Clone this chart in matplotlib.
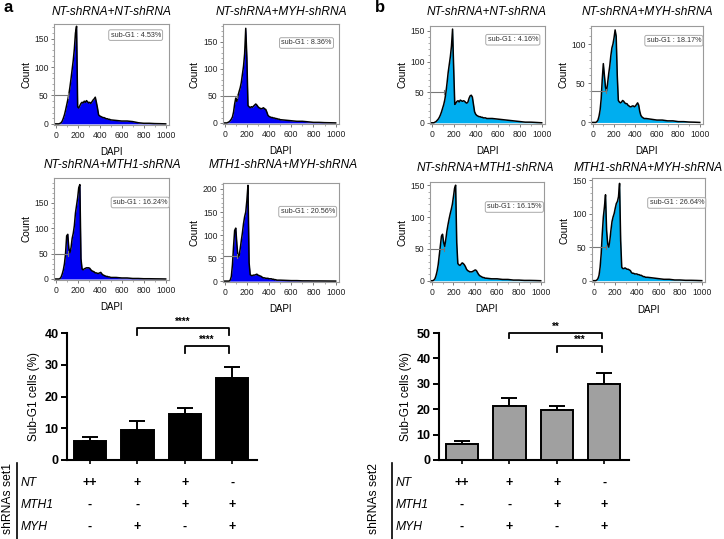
import matplotlib
matplotlib.use("Agg")
import matplotlib.pyplot as plt
from matplotlib.ticker import MultipleLocator
from matplotlib.transforms import blended_transform_factory

plt.rcParams["font.family"] = ["Liberation Sans", "DejaVu Sans"]

# DAPI channel grid the histogram profiles were read at
dapi = [0, 10, 20, 30, 40, 50, 60, 70, 80, 90, 100, 110, 120, 130, 140, 150, 160, 170, 180, 190,
        200, 210, 220, 230, 240, 250, 260, 270, 280, 290, 300, 310, 320, 330, 340, 350, 360, 370,
        380, 390, 400, 410, 420, 430, 440, 450, 460, 470, 480, 490, 500,
        550, 600, 650, 700, 750, 800, 850, 900, 950, 1000]

a_nt_nt = [0, 0, 0, 0, 1, 2, 5, 10, 16, 24, 33, 42, 52, 65, 80, 96, 112, 132, 160, 172,
           30, 28, 32, 36, 38, 37, 40, 38, 41, 39, 37, 38, 36, 39, 42, 44, 47, 38,
           28, 16, 14, 13, 12, 11, 11, 10, 9, 9, 8, 8, 7,
           6, 5, 5, 4, 2, 1, 1, 0.5, 0.3, 0]
a_nt_myh = [0, 0, 0, 1, 2, 4, 7, 11, 20, 35, 46, 40, 50, 58, 65, 75, 90, 105, 128, 175,
            120, 32, 30, 28, 30, 29, 31, 33, 35, 33, 30, 28, 27, 26, 27, 28, 26, 25,
            20, 14, 12, 11, 10, 10, 9, 9, 8, 8, 7, 7, 6,
            5, 4, 3, 3, 2, 1, 1, 0.5, 0.3, 0]
a_nt_mth1 = [0, 0, 0, 0, 1, 4, 10, 18, 30, 50, 85, 88, 60, 52, 62, 80, 90, 105, 130, 145,
             160, 180, 186, 40, 20, 18, 20, 21, 22, 22, 22, 21, 18, 16, 15, 14, 12, 12,
             11, 11, 12, 13, 10, 8, 7, 6, 5, 5, 4, 4, 3,
             3, 2, 2, 1, 1, 0.5, 0.5, 0.3, 0.2, 0]
a_mth1_myh = [0, 0, 0, 0, 0, 2, 10, 35, 75, 110, 115, 80, 52, 55, 70, 88, 105, 125, 140, 150,
              175, 208, 40, 14, 12, 12, 13, 13, 14, 15, 13, 12, 11, 10, 8, 7, 7, 6,
              6, 6, 5, 5, 5, 4, 4, 3, 3, 2, 2, 2, 2,
              1.5, 1, 1, 0.5, 0.5, 0.3, 0.3, 0.2, 0.1, 0]
b_nt_nt = [0, 0, 0, 1, 2, 4, 6, 9, 13, 18, 24, 30, 38, 50, 65, 82, 95, 108, 125, 153,
           90, 30, 32, 35, 36, 34, 37, 36, 35, 36, 35, 33, 32, 34, 40, 44, 45, 42,
           30, 18, 14, 12, 11, 10, 10, 9, 9, 8, 8, 8, 7,
           7, 6, 5, 4, 3, 2, 1, 1, 0.5, 0]
b_nt_myh = [0, 0, 0, 0, 1, 3, 8, 16, 30, 55, 75, 60, 45, 40, 50, 62, 72, 85, 95, 100,
            108, 118, 110, 60, 28, 26, 25, 26, 28, 27, 25, 24, 24, 22, 21, 20, 20, 21,
            21, 20, 21, 23, 25, 22, 14, 9, 7, 6, 5, 5, 5,
            4, 3, 3, 2, 2, 1, 1, 0.5, 0.3, 0]
b_nt_mth1 = [0, 0, 1, 3, 8, 15, 25, 40, 55, 70, 73, 60, 54, 65, 78, 88, 97, 105, 112, 120,
             132, 145, 150, 60, 27, 25, 24, 26, 28, 27, 25, 22, 18, 16, 15, 14, 14, 14,
             15, 16, 17, 16, 13, 10, 8, 7, 6, 5, 5, 4, 4,
             3, 3, 2, 2, 1, 1, 0.5, 0.5, 0.3, 0]
b_mth1_myh = [0, 0, 0, 1, 3, 8, 20, 40, 70, 95, 110, 128, 75, 55, 50, 60, 75, 88, 95, 100,
              108, 115, 118, 125, 145, 60, 20, 18, 18, 19, 18, 17, 17, 16, 15, 12, 11, 11,
              10, 10, 10, 9, 9, 8, 8, 7, 6, 6, 5, 5, 5,
              4, 3, 2, 2, 1, 1, 0.5, 0.5, 0.3, 0]

hist_titles = ["NT-shRNA+NT-shRNA", "NT-shRNA+MYH-shRNA",
               "NT-shRNA+MTH1-shRNA", "MTH1-shRNA+MYH-shRNA"]
a_subg1 = ["4.53%", "8.36%", "16.24%", "20.56%"]
b_subg1 = ["4.16%", "18.17%", "16.15%", "26.64%"]
a_gates = [(115, 50), (110, 50), (115, 50), (115, 55)]
b_gates = [(110, 50), (125, 40), (115, 50), (110, 50)]

a_means = [6.1, 9.5, 14.5, 25.8]
a_errs = [1.3, 2.9, 1.8, 3.4]
b_means = [6.3, 21.4, 19.5, 29.9]
b_errs = [1.3, 3.2, 1.9, 4.3]

row_names = ["NT", "MTH1", "MYH"]
row_symbols = [["++", "+", "+", "-"],
               ["-", "-", "+", "+"],
               ["-", "+", "-", "+"]]

W, H = 724, 539
fig = plt.figure(figsize=(W / 100, H / 100), dpi=100)


def px_rect(l, t, r, b):
    return [l / W, 1 - b / H, (r - l) / W, (b - t) / H]


def histogram(rect, counts, ymax, color, title, title_xy, label, gate, box_xy):
    ax = fig.add_axes(px_rect(*rect))
    ax.fill_between(dapi, counts, color=color, lw=0)
    ax.plot(dapi, counts, color="black", lw=1.1)
    gx, gy = gate
    ax.plot([-15, gx], [gy, gy], color="#777777", lw=0.8)
    ax.plot([gx, gx], [gy - 4 * ymax / 180, gy + 4 * ymax / 180], color="#777777", lw=0.8)
    ax.set_xlim(-15, 1030)
    ax.set_ylim(-2, ymax)
    ax.set_xticks([0, 200, 400, 600, 800, 1000])
    ax.xaxis.set_minor_locator(MultipleLocator(100))
    ax.yaxis.set_major_locator(MultipleLocator(50))
    ax.yaxis.set_minor_locator(MultipleLocator(10))
    ax.tick_params(which="major", labelsize=6.2, length=2.5, width=0.6, pad=1.5,
                   color="#666666", labelcolor="#222222")
    ax.tick_params(which="minor", length=1.5, width=0.5, color="#888888")
    for s in ax.spines.values():
        s.set_color("#9a9a9a")
        s.set_linewidth(0.8)
    ax.set_ylabel("Count", fontsize=7.3)
    ax.set_xlabel("DAPI", fontsize=7)
    ax.yaxis.set_label_coords(-0.2, 0.5)
    ax.xaxis.set_label_coords(0.5, -0.22)
    ax.text(box_xy[0], box_xy[1], "sub-G1 : " + label, transform=ax.transAxes,
            ha="center", va="center", fontsize=5.2, color="#333333",
            bbox=dict(boxstyle="round,pad=0.25", fc="white", ec="#aaaaaa", lw=0.7))
    fig.text(title_xy[0] / W, 1 - title_xy[1] / H, title, ha="center", va="center",
             fontsize=8.6, style="italic")
    return ax


# panel a histograms
histogram((54, 24, 169, 125), a_nt_nt, 176, "#0000f5", hist_titles[0], (112, 12),
          a_subg1[0], a_gates[0], (0.71, 0.89))
histogram((223, 24, 339, 124), a_nt_myh, 183, "#0000f5", hist_titles[1], (281, 12),
          a_subg1[1], a_gates[1], (0.72, 0.81))
histogram((54, 178, 169, 280), a_nt_mth1, 199, "#0000f5", hist_titles[2], (112, 165),
          a_subg1[2], a_gates[2], (0.75, 0.76))
histogram((223, 183, 339, 282), a_mth1_myh, 213, "#0000f5", hist_titles[3], (283, 165),
          a_subg1[3], a_gates[3], (0.73, 0.71))

# panel b histograms
histogram((430, 26, 545, 124), b_nt_nt, 158, "#00aeef", hist_titles[0], (487, 12),
          b_subg1[0], b_gates[0], (0.72, 0.86))
histogram((591, 26, 703, 124), b_nt_myh, 123, "#00aeef", hist_titles[1], (647, 12),
          b_subg1[1], b_gates[1], (0.74, 0.85))
histogram((430, 182, 544, 282), b_nt_mth1, 155, "#00aeef", hist_titles[2], (485, 168),
          b_subg1[2], b_gates[2], (0.74, 0.75))
histogram((592, 178, 705, 282), b_mth1_myh, 153, "#00aeef", hist_titles[3], (648, 168),
          b_subg1[3], b_gates[3], (0.75, 0.76))


def bar_panel(rect, means, errs, ymax, color, brackets, set_name, table_px):
    ax = fig.add_axes(px_rect(*rect))
    x = list(range(len(means)))
    ax.bar(x, means, width=0.68, color=color, edgecolor="black", lw=1.4, zorder=3)
    ax.errorbar(x, means, yerr=[[0] * len(errs), errs], fmt="none", ecolor="black",
                elinewidth=1.4, capsize=6, capthick=1.4, zorder=2)
    ax.set_xlim(-0.485, 3.52)
    ax.set_ylim(0, ymax)
    ax.set_xticks(x)
    ax.set_xticklabels([])
    ax.yaxis.set_major_locator(MultipleLocator(10))
    ax.tick_params(axis="y", labelsize=9, length=4, width=1.4, pad=2)
    ax.tick_params(axis="x", length=3, width=1.2)
    for lab in ax.get_yticklabels():
        lab.set_fontweight("bold")
    for side in ("top", "right"):
        ax.spines[side].set_visible(False)
    for side in ("left", "bottom"):
        ax.spines[side].set_linewidth(1.5)
    ax.set_ylabel("Sub-G1 cells (%)", fontsize=8.5, labelpad=3)
    for x1, x2, yb, drop, stars in brackets:
        ax.plot([x1, x1, x2, x2], [yb - drop, yb, yb, yb - drop], color="black",
                lw=1.3, clip_on=False)
        ax.text((x1 + x2) / 2, yb + drop * 0.25, stars, ha="center", va="bottom",
                fontsize=7, fontweight="bold", clip_on=False)

    # genotype table under the bars
    tr = blended_transform_factory(ax.transData, fig.transFigure)
    text_x, line_x, lab_x = table_px
    rows_y = [483, 505, 527]
    for name, syms, ry in zip(row_names, row_symbols, rows_y):
        fig.text(lab_x / W, 1 - ry / H, name, ha="left", va="center", fontsize=8.7,
                 style="italic")
        for xi, s in zip(x, syms):
            ax.text(xi, 1 - ry / H, s, transform=tr, ha="center", va="center",
                    fontsize=9, fontweight="bold", clip_on=False)
    fig.add_artist(plt.Line2D([line_x / W, line_x / W], [1 - 463 / H, 0], color="black",
                              lw=1.2))
    fig.text(text_x / W, 1 - 499 / H, set_name, rotation=90, ha="center", va="center",
             fontsize=8.7)
    return ax


bar_panel((67, 333, 257, 460), a_means, a_errs, 40, "black",
          [(1, 2.92, 41.5, 2.0, "****"), (2, 2.92, 35.8, 2.0, "****")],
          "shRNAs set1", (8, 17, 21))
bar_panel((439, 333, 629, 460), b_means, b_errs, 50, "#a0a0a0",
          [(1, 2.95, 50, 2.0, "**"), (2, 2.95, 44.7, 2.0, "***")],
          "shRNAs set2", (374, 392, 396))

fig.text(3 / W, 1 - 8 / H, "a", fontsize=12, fontweight="bold", ha="left", va="center")
fig.text(375 / W, 1 - 8 / H, "b", fontsize=12, fontweight="bold", ha="left", va="center")

fig.savefig("out.png", dpi=100)
